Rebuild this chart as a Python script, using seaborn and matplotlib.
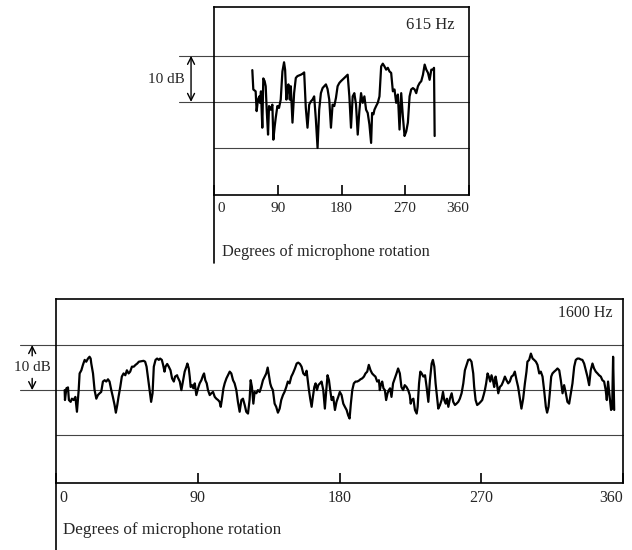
import matplotlib
matplotlib.use('Agg')
import matplotlib.pyplot as plt
import seaborn as sns
from matplotlib.lines import Line2D

# 615 Hz trace (degrees, dB relative to mid line)
top_deg = [54.1, 55.5, 58.8, 60.2, 62.1, 64.0, 64.9, 66.3, 68.2, 69.6, 71.5, 73.0, 74.4, 76.3, 77.7,
           80.0, 82.4, 83.8, 85.7, 87.1, 89.5, 91.8, 94.2, 96.6, 98.9, 100.4, 102.2, 103.7, 105.1,
           107.0, 108.4, 110.8, 113.1, 115.5, 117.8, 122.6, 124.9, 127.3, 129.6, 132.0, 134.4,
           136.7, 139.1, 141.4, 143.8, 146.2, 148.5, 150.9, 153.3, 155.6, 158.0, 160.3, 162.7,
           165.1, 167.4, 169.8, 172.2, 174.5, 176.9, 179.2, 184.0, 188.7, 191.1, 193.4, 195.8,
           198.1, 200.5, 202.9, 205.2, 207.6, 210.0, 212.3, 214.7, 217.0, 219.4, 221.8, 223.2,
           225.1, 226.5, 228.9, 231.2, 233.6, 236.0, 238.3, 240.7, 243.0, 245.4, 247.8, 250.1,
           252.5, 254.8, 257.2, 259.6, 261.9, 264.3, 266.6, 269.0, 271.4, 273.7, 276.1, 278.4,
           280.8, 283.2, 285.5, 287.9, 290.3, 292.6, 295.0, 297.4, 299.7, 302.1, 304.4, 306.8,
           309.2, 310.6, 311.5]
top_db = [6.9, 2.7, 2.3, -2.0, 0.5, 1.2, -0.2, 2.3, -5.6, 5.1, 4.5, 3.4, -1.7, -7.1, -0.9,
          -1.7, -0.6, -8.2, -5.3, -3.5, -0.9, -1.3, 0.5, 6.6, 8.6, 7.0, 0.5, 3.0, 3.8,
          0.5, 3.4, -4.5, 1.9, 5.2, 5.6, 5.9, 6.1, 6.4, -1.3, -5.6, -0.6,
          0.1, 0.5, 1.2, -3.8, -10.0, -1.7, 1.9, 3.0, 3.4, 3.8, 2.8, 0.5,
          -5.6, -0.6, -0.9, 0.9, 3.4, 4.1, 4.5, 5.2, 5.9, 1.2, -5.6, 1.2,
          1.9, -0.6, -7.1, -2.0, 1.9, -0.2, 1.2, -1.7, -2.4, -4.9, -8.9, -2.4,
          -2.7, -1.7, -0.9, -0.2, 1.2, 7.7, 8.3, 7.7, 7.0, 7.4, 6.6, 6.3,
          2.3, 2.7, -0.2, 1.6, -6.0, 1.9, -3.1, -7.4, -6.4, -4.5, 1.2, 2.7,
          3.0, 2.7, 1.9, 3.4, 4.1, 4.5, 5.9, 8.1, 7.0, 6.3, 4.8, 7.0,
          7.0, 7.4, -7.4]

# 1600 Hz trace
bot_deg = [5.5, 5.7, 6.6, 7.6, 8.2, 9.3, 10.1, 11.2, 12.3, 13.3, 14.4, 15.0, 16.1, 17.1, 18.2,
           19.2, 20.3, 21.3, 22.0, 22.4, 23.5, 24.5, 25.6, 26.6, 27.7, 28.7, 29.8, 30.9, 31.9,
           33.0, 34.0, 35.1, 36.1, 37.2, 38.0, 38.9, 39.7, 40.8, 41.8, 42.9, 44.0, 45.0, 46.1,
           47.1, 48.2, 49.4, 50.5, 51.6, 52.6, 54.1, 55.6, 56.6, 57.5, 58.3, 59.4, 60.4, 61.3,
           62.1, 63.2, 64.2, 65.3, 66.1, 67.2, 68.0, 68.9, 69.5, 70.6, 71.6, 72.7, 73.7, 74.8,
           75.6, 76.9,
           77.1, 78.6, 79.6, 80.7, 81.7, 82.8, 83.4, 84.3, 84.9, 85.5, 86.4, 87.2, 88.1, 89.1,
           90.2, 91.2, 92.3, 93.4, 94.0, 94.8, 95.7, 96.5, 97.6, 98.6, 99.7, 100.8, 101.8, 102.9,
           103.9, 104.6, 105.4, 106.3, 107.1, 108.2, 109.2, 110.3, 111.3, 112.4, 113.4, 114.5,
           115.5, 116.6, 117.7, 118.7, 119.8, 120.8, 121.9, 122.9, 123.6, 124.4, 125.3, 126.1,
           127.2, 128.2, 129.3, 130.3, 131.4, 132.5, 133.5, 134.4, 135.2, 136.0, 136.7, 137.7,
           138.8, 139.8, 140.9, 142.0, 143.0, 144.1, 145.1, 146.2, 147.2, 148.3, 149.4, 150.4,
           151.7, 152.8, 153.8, 154.9, 155.9, 157.0, 158.1, 159.1, 159.7, 160.6, 161.4, 162.3,
           163.1, 164.0, 164.8, 165.7, 166.5, 167.6, 168.6, 169.7, 170.7, 171.6, 172.4, 173.3,
           174.1, 175.0, 176.0, 177.1, 178.1, 179.2, 180.2, 181.3, 182.4, 183.4, 184.5, 185.5,
           186.4, 187.2, 188.1, 189.1, 190.2, 191.2, 192.3, 193.3, 194.4, 195.5, 196.5, 197.6,
           198.6, 199.7, 200.7, 201.8, 202.8, 203.9, 205.0, 205.6, 206.2, 207.1, 207.9, 208.8,
           209.6, 210.5, 211.3, 212.1, 213.0, 214.0, 215.1, 216.2, 217.2, 218.3, 219.3, 220.4,
           221.4, 222.5, 223.6, 224.6, 225.2,
           225.8, 226.9, 227.9, 229.0, 229.6, 230.5, 231.3, 232.2, 233.2, 234.3, 235.3, 236.4,
           237.4, 238.5, 239.3, 240.2, 241.0, 241.9, 242.7, 243.8, 244.8, 245.7, 246.5, 247.4,
           248.2, 249.1, 250.1, 251.2, 252.2, 253.3, 254.3, 255.4, 256.4, 257.5, 258.6, 259.6,
           260.7, 261.7, 262.8, 263.8, 264.9, 265.5, 266.4, 267.4, 268.5, 269.6, 270.6, 271.5,
           272.3, 273.1, 274.0, 274.8, 275.7, 276.5, 277.4, 278.2, 279.1, 279.9, 280.8, 281.8,
           282.9, 283.9, 285.0, 286.0, 287.1, 288.1, 289.2, 290.3, 291.3, 292.4, 293.4, 294.5,
           295.5, 296.6, 297.7, 298.7, 299.3,
           300.4, 301.5, 302.6, 303.6, 304.7, 305.7, 306.8, 307.8, 308.9, 309.9, 311.0, 311.8,
           312.7, 313.5, 314.4, 315.2, 316.3, 317.3, 318.4, 319.5, 320.5, 321.6, 322.6, 323.7,
           324.7, 325.8, 326.9, 327.9, 329.0, 330.0, 331.1, 332.1, 333.2, 334.2, 335.3, 336.4,
           337.4, 338.5, 339.5, 340.6, 341.6, 342.7, 343.8, 344.8, 345.9, 346.9, 348.0, 349.0,
           349.7, 350.5, 351.2, 351.8, 352.4, 353.1, 353.7, 354.4]
bot_db = [0.0, -2.2, 0.4, 0.6, -2.2, -2.6, -1.9, -2.2, -1.5, -4.8, 0.0, 3.7, 4.4, 5.6, 6.7,
          6.3, 7.0, 7.4, 7.0, 5.9, 3.7, 0.0, -1.9, -1.1, -0.7, -0.4, 1.9, 2.2, 1.9,
          2.4, 1.9, 0.0, -1.5, -3.3, -5.0, -3.3, -1.5, 0.7, 3.0, 3.7, 3.3, 4.4, 3.7,
          4.1, 5.2, 5.2, 5.6, 5.9, 6.3, 6.4, 6.5, 6.3, 5.2, 3.0, 0.0, -2.6, -0.7,
          5.2, 6.7, 7.0, 6.7, 7.0, 6.7, 5.6, 4.1, 5.2, 5.8, 5.2, 4.4, 2.6, 1.9,
          3.0, 3.3,
          3.0, 1.9, 0.0, 2.2, 4.1, 5.2, 5.9, 4.8, 3.0, 0.7, 1.1, 0.4, 1.5, -1.1,
          0.4, 1.5, 2.2, 3.3, 3.7, 2.2, 1.5, 0.0, -1.1, -0.7, -0.4, -1.5, -1.9, -2.2,
          -2.6, -3.7, -1.9, 0.4, 1.5, 2.6, 3.3, 4.1, 3.7, 2.2, 1.5, 0.0,
          -2.6, -4.8, -2.2, -1.9, -3.3, -4.8, -5.2, -2.2, 2.2, 0.7, -3.0, -0.4,
          -0.7, 0.0, -0.4, 0.7, 2.2, 3.0, 3.7, 5.0, 3.3, 1.5, 0.7, 0.0,
          -3.0, -3.7, -5.0, -4.1, -2.2, -1.1, -0.4, 0.7, 1.9, 1.5, 3.0, 3.7,
          4.8, 5.9, 6.1, 5.8, 5.2, 3.7, 3.3, 4.3, 2.6, 0.0, -1.9, -3.7,
          -1.5, 0.7, 1.5, 0.0, 1.1, 1.5, 1.9, 0.0, -4.1, 0.0, 3.3, 2.2,
          0.0, -2.2, -1.5, -4.4, -2.6, -1.5, -0.4, -1.1, -3.0, -3.7, -4.4, -5.6,
          -6.3, -3.0, 0.0, 1.5, 1.9, 1.9, 2.1, 2.4, 2.6, 3.0, 3.7, 4.1,
          5.6, 4.4, 3.7, 3.3, 3.0, 1.9, 2.2, 0.0, 1.1, 1.9, 0.4, 0.0,
          -2.2, -0.7, 0.0, 0.4, -1.5, 1.5, 2.6, 3.7, 4.8, 3.7, 0.7, 0.0,
          1.1, 0.7, 0.0, -1.1, -3.0,
          -2.2, -1.9, -4.4, -5.2, -3.7, 1.5, 4.1, 3.7, 3.0, 3.3, 0.7, -2.6,
          2.2, 5.9, 6.7, 5.2, 1.5, -1.5, -4.1, -3.3, -2.2, -0.4, -2.2, -3.0,
          -1.9, -3.7, -1.9, -0.7, -2.6, -3.3, -3.0, -2.6, -1.9, -0.7, 1.5, 4.4,
          5.6, 6.7, 6.8, 6.3, 3.7, 0.7, -2.2, -3.3, -3.0, -2.6, -2.2, -1.1,
          0.0, 1.5, 3.7, 3.0, 1.9, 3.3, 2.2, 0.7, 3.0, 1.5, -0.7, 0.7,
          1.1, 1.9, 3.0, 2.2, 1.5, 1.9, 3.0, 3.3, 4.1, 2.2, 0.7, -1.9,
          -4.1, -1.9, 1.5, 4.1, 6.3,
          6.7, 8.1, 7.0, 6.7, 6.3, 5.6, 3.7, 4.1, 3.0, 0.0, -3.7, -5.0,
          -3.7, -0.7, 3.0, 3.7, 4.1, 4.4, 4.8, 4.4, 2.2, -0.7, 1.1, -0.7,
          -2.6, -3.0, -0.7, 1.5, 5.2, 6.7, 7.0, 7.0, 6.8, 6.7, 5.9, 4.4,
          3.0, 1.1, 4.4, 5.9, 4.8, 4.1, 3.7, 3.3, 3.0, 2.2, 1.9, 0.0,
          -2.2, 1.9, -0.4, -2.2, -4.4, -4.1, 7.4, -4.4]

x_ticks = [0, 90, 180, 270, 360]
x_labels = [' 0', '90', '180', '270', '360']
ref_levels = [10, 0, -10]

sns.set_style('white')
plt.rcParams['font.family'] = ['Liberation Serif', 'DejaVu Serif']

fig = plt.figure(figsize=(6.32, 5.5), dpi=100)
ax1 = fig.add_axes([0.3386, 0.6455, 0.4035, 0.3418])
ax2 = fig.add_axes([0.0886, 0.1218, 0.8972, 0.3345])


def draw_panel(ax, deg, db, ylim, ext, drop, title, title_xy, label_xy, fs, title_fs, label_fs):
    # reference lines, the upper two run out past the left border
    for lev in ref_levels:
        x0 = ext if lev >= 0 else 0
        ax.add_line(Line2D([x0, 1], [lev, lev], transform=ax.get_yaxis_transform(),
                           color='#444444', lw=0.8, clip_on=False, zorder=1))
    sns.lineplot(x=deg, y=db, ax=ax, color='black', lw=1.6, estimator=None, sort=False, zorder=3)
    ax.set_xlim(0, 360)
    ax.set_ylim(*ylim)
    ax.set_yticks([])
    ax.set_xticks(x_ticks)
    ax.set_xticklabels(x_labels, fontsize=fs)
    labs = ax.get_xticklabels()
    labs[0].set_ha('left')
    labs[-1].set_ha('right')
    ax.tick_params(axis='x', bottom=True, direction='in', length=7, width=1.2,
                   color='black', pad=5)
    ax.set_xlabel('')
    ax.set_ylabel('')
    for s in ax.spines.values():
        s.set_visible(True)
        s.set_color('black')
        s.set_linewidth(1.2)
    # left border continues down past the tick labels
    ax.add_line(Line2D([0, 0], [0, drop], transform=ax.transAxes, color='black',
                       lw=1.2, clip_on=False))
    ax.text(title_xy[0], title_xy[1], title, transform=ax.transAxes, ha='right',
            va='center', fontsize=title_fs)
    ax.text(label_xy[0], label_xy[1], 'Degrees of microphone rotation', transform=ax.transAxes,
            ha='left', va='center', fontsize=label_fs)


draw_panel(ax1, top_deg, top_db, (-20.2, 20.6), -0.137, -0.36, '615 Hz',
           (0.945, 0.904), (0.031, -0.303), 11, 12, 11.7)
draw_panel(ax2, bot_deg, bot_db, (-20.6, 20.2), -0.063, -0.37, '1600 Hz',
           (0.981, 0.924), (0.012, -0.255), 11.5, 11.5, 12.3)

# 10 dB markers
tr1 = ax1.get_yaxis_transform()
ax1.annotate('', xy=(-0.09, 10), xytext=(-0.09, 0), xycoords=tr1, textcoords=tr1,
             arrowprops=dict(arrowstyle='<->,head_length=0.5,head_width=0.25', color='black',
                             lw=1.0, shrinkA=0, shrinkB=0))
ax1.text(-0.114, 4.8, '10 dB', transform=tr1, ha='right', va='center', fontsize=11)

tr2 = ax2.get_yaxis_transform()
ax2.annotate('', xy=(-0.042, 10), xytext=(-0.042, 7.6), xycoords=tr2, textcoords=tr2,
             arrowprops=dict(arrowstyle='->,head_length=0.5,head_width=0.25', color='black',
                             lw=1.0, shrinkA=0, shrinkB=0))
ax2.annotate('', xy=(-0.042, 0), xytext=(-0.042, 2.6), xycoords=tr2, textcoords=tr2,
             arrowprops=dict(arrowstyle='->,head_length=0.5,head_width=0.25', color='black',
                             lw=1.0, shrinkA=0, shrinkB=0))
ax2.text(-0.041, 5.1, '10 dB', transform=tr2, ha='center', va='center', fontsize=11)

fig.savefig('out.png', dpi=100, facecolor='white')
